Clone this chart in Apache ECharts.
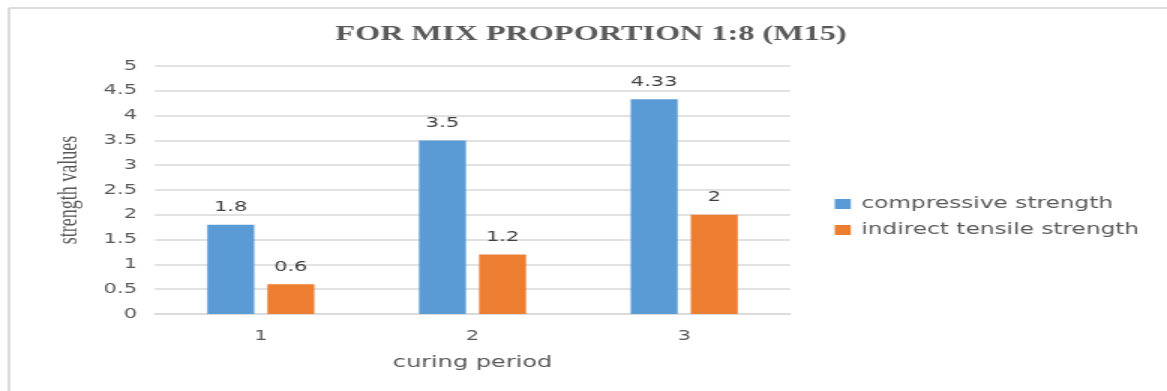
<!DOCTYPE html>
<html>
<head>
<meta charset="utf-8">
<script src="https://cdn.jsdelivr.net/npm/echarts@6/dist/echarts.min.js"></script>
<style>
  html, body { margin: 0; padding: 0; background: #fff; overflow: hidden; }
  /* The chart is laid out on a narrower canvas and widened horizontally,
     which gives the wide, stretched lettering of the figure. */
  #chart { width: 778px; height: 391px; transform: scaleX(1.5); transform-origin: 0 0; }
</style>
</head>
<body>
<div id="chart"></div>
<script>
// Curing period categories and measured strengths
const categories = ['1', '2', '3'];
const compressive = [1.8, 3.5, 4.33];
const tensile = [0.6, 1.2, 2];
const yTicks = [0, 0.5, 1, 1.5, 2, 2.5, 3, 3.5, 4, 4.5, 5];

const chart = echarts.init(document.getElementById('chart'));
const labelFont = { fontFamily: 'DejaVu Sans', fontSize: 14, color: '#404040' };

chart.setOption({
  animation: false,
  backgroundColor: '#fff',
  title: {
    text: 'FOR MIX PROPORTION 1:8 (M15)',
    left: 389, top: 18, textAlign: 'center',
    textStyle: { fontFamily: 'Liberation Serif', fontWeight: 'bold', fontSize: 21.5, color: '#595959' }
  },
  graphic: [
    { type: 'line', shape: { x1: 6, y1: 8, x2: 778, y2: 8 }, style: { stroke: '#dcdcdc', lineWidth: 2 } },
    { type: 'line', shape: { x1: 6, y1: 8, x2: 6, y2: 391 }, style: { stroke: '#d6d6d6', lineWidth: 1.7 } }
  ],
  legend: {
    orient: 'vertical', left: 551.5, top: 191, itemWidth: 10.7, itemHeight: 10, itemGap: 10,
    icon: 'rect',
    textStyle: { fontFamily: 'DejaVu Sans', fontSize: 15.5, color: '#595959', padding: [0, 0, 0, 2] },
    data: ['compressive strength', 'indirect tensile strength']
  },
  grid: { left: 103.3, right: 251.3, top: 66, bottom: 77 },
  xAxis: {
    type: 'category', data: categories,
    name: 'curing period', nameLocation: 'middle', nameGap: 41,
    nameTextStyle: { fontFamily: 'DejaVu Sans', fontSize: 16, color: '#595959' },
    axisLine: { lineStyle: { color: '#d9d9d9', width: 1.5 } },
    axisTick: { show: false },
    axisLabel: { fontFamily: 'DejaVu Sans', fontSize: 14, color: '#595959', margin: 15 }
  },
  yAxis: {
    type: 'value', min: yTicks[0], max: yTicks[yTicks.length - 1], interval: 0.5,
    name: 'strength values', nameLocation: 'middle', nameGap: 48, nameRotate: 90,
    nameTextStyle: { fontFamily: 'Liberation Serif', fontSize: 18, color: '#595959' },
    axisLine: { show: false }, axisTick: { show: false },
    axisLabel: { fontFamily: 'DejaVu Sans', fontSize: 14, color: '#595959', margin: 12 },
    splitLine: { lineStyle: { color: '#d9d9d9', width: 1.5 } }
  },
  series: [
    {
      name: 'compressive strength', type: 'bar', data: compressive,
      barWidth: 31.3, barGap: '28%',
      itemStyle: { color: '#5B9BD5' },
      label: { show: true, position: 'top', distance: 10, ...labelFont }
    },
    {
      name: 'indirect tensile strength', type: 'bar', data: tensile,
      barWidth: 31.3,
      itemStyle: { color: '#ED7D31' },
      label: { show: true, position: 'top', distance: 10, ...labelFont }
    }
  ]
});
</script>
</body>
</html>
